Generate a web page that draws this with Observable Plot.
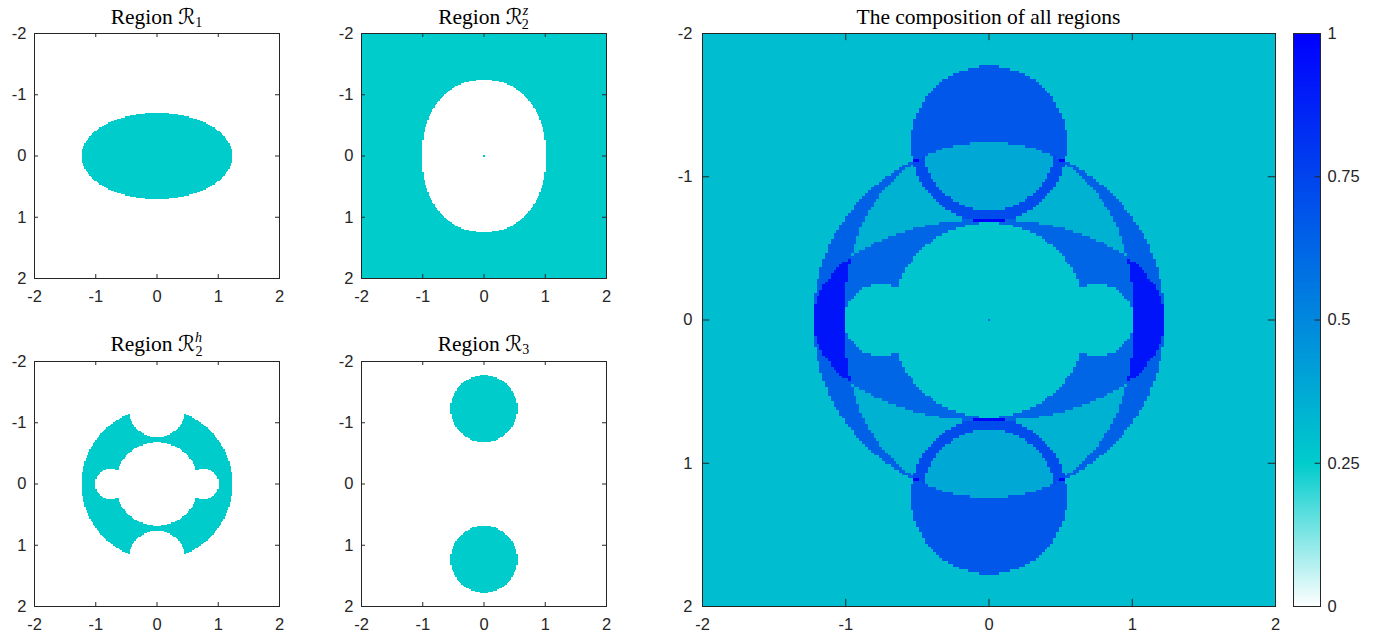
<!DOCTYPE html>
<html>
<head>
<meta charset="utf-8">
<script src="https://cdn.jsdelivr.net/npm/d3@7"></script>
<script src="https://cdn.jsdelivr.net/npm/@observablehq/plot@0.6"></script>
<style>
  html, body { margin: 0; padding: 0; background: #ffffff; }
  #root { position: relative; width: 1374px; height: 635px; overflow: hidden; background: #ffffff; }
  .panel { position: absolute; }
  #titles { position: absolute; left: 0; top: 0; pointer-events: none; }
  .ttl { font-family: "Liberation Serif", "Times New Roman", serif; font-size: 21.5px; fill: #000000; white-space: pre; }
  .cal { font-family: "DejaVu Serif", "DejaVu Sans", serif; font-style: italic; }
  .scr { font-size: 14px; }
  .it { font-style: italic; }
</style>
</head>
<body>
<div id="root"></div>
<script>
// ---------------- data ----------------
const axisTicks = [-2, -1, 0, 1, 2];
const colorbarTicks = [0, 0.25, 0.5, 0.75, 1];
const colorDomain = [0, 0.25, 1];
const colorRange = ["#ffffff", "#00cccc", "#0000ff"];

// region geometry (data units)
const r1Ellipse = [1.23, 0.705];                 // semi-axes x, y
const r2zOval = [1.01, 1.24, 2.2];               // semi-axes x, y, exponent (hole of R2z)
const r2hOuter = [1.23];                         // outer radius
const r2hInner = [0.68];                         // inner radius
const r2hBumps = [[-0.76, 0, 0.25], [0.76, 0, 0.25]];   // cx, cy, r
const r2hCuts = [[0, -1.23, 0.465], [0, 1.23, 0.465]];  // cx, cy, r
const r3Discs = [[0, -1.23, 0.545], [0, 1.23, 0.545]];  // cx, cy, r

const regionNames = ["R1", "R2z", "R2h", "R3"];
const regionWeights = [0.28, 0.30, 0.345, 0.38]; // contribution to the composition
const panelLevel = [0.25];

const titleWord = ["Region", "Region", "Region", "Region"];
const titleLetter = ["ℛ", "ℛ", "ℛ", "ℛ"];
const titleSub = ["1", "2", "2", "3"];
const titleSup = ["", "z", "h", ""];
const compositeTitle = "The composition of all regions";

// ---------------- region indicators ----------------
const inDisc = (x, y, [cx, cy, r]) => (x - cx) ** 2 + (y - cy) ** 2 <= r * r;
const inR1 = (x, y) => (x / r1Ellipse[0]) ** 2 + (y / r1Ellipse[1]) ** 2 <= 1;
const inR2z = (x, y) =>
  Math.abs(x / r2zOval[0]) ** r2zOval[2] + Math.abs(y / r2zOval[1]) ** r2zOval[2] > 1 ||
  (Math.abs(x) < 1e-3 && Math.abs(y) < 1e-3);
const inR2h = (x, y) => {
  const d2 = x * x + y * y;
  if (d2 > r2hOuter[0] ** 2 || d2 < r2hInner[0] ** 2) return false;
  if (r2hBumps.some(c => inDisc(x, y, c))) return false;
  if (r2hCuts.some(c => inDisc(x, y, c))) return false;
  return true;
};
const inR3 = (x, y) => r3Discs.some(c => inDisc(x, y, c));
const indicators = [inR1, inR2z, inR2h, inR3];
const composite = (x, y) =>
  indicators.reduce((s, f, i) => s + (f(x, y) ? regionWeights[i] : 0), 0);

// ---------------- plotting ----------------
const colorScale = {type: "linear", domain: colorDomain, range: colorRange, interpolate: "rgb", clamp: true};
const baseStyle = {
  background: "none",
  fontFamily: "'Liberation Sans', Arial, Helvetica, sans-serif",
  fontSize: "16.5px",
  color: "#262626",
  overflow: "visible"
};
const AX = "#262626";

function mapPlot(size, mLeft, fill, tickLen, yPad) {
  const mTop = 6, mRight = 6, mBottom = 34;
  return Plot.plot({
    width: mLeft + size + mRight,
    height: mTop + size + mBottom,
    marginLeft: mLeft, marginRight: mRight, marginTop: mTop, marginBottom: mBottom,
    x: {domain: [-2, 2]},
    y: {domain: [-2, 2], reverse: true},
    color: colorScale,
    style: baseStyle,
    marks: [
      Plot.raster({x1: -2, x2: 2, y1: -2, y2: 2, width: 201, height: 201, fill, imageRendering: "pixelated"}),
      Plot.frame({stroke: AX, strokeWidth: 1}),
      Plot.ruleX(axisTicks, {x: d => d, y1: -2, y2: -2 + tickLen, stroke: AX}),
      Plot.ruleX(axisTicks, {x: d => d, y1: 2, y2: 2 - tickLen, stroke: AX}),
      Plot.ruleY(axisTicks, {y: d => d, x1: -2, x2: -2 + tickLen, stroke: AX}),
      Plot.ruleY(axisTicks, {y: d => d, x1: 2, x2: 2 - tickLen, stroke: AX}),
      Plot.axisX({ticks: axisTicks, anchor: "bottom", tickSize: 0, tickPadding: 12, tickFormat: d => String(d), label: null}),
      Plot.axisY({ticks: axisTicks, anchor: "left", tickSize: 0, tickPadding: yPad, tickFormat: d => String(d), label: null})
    ]
  });
}

function colorbarPlot() {
  const w = 27, h = 573, mTop = 6, mBottom = 34, mLeft = 2, mRight = 50;
  return Plot.plot({
    width: mLeft + w + mRight,
    height: mTop + h + mBottom,
    marginLeft: mLeft, marginRight: mRight, marginTop: mTop, marginBottom: mBottom,
    x: {domain: [0, 1]},
    y: {domain: [0, 1]},
    color: colorScale,
    style: baseStyle,
    marks: [
      Plot.raster({x1: 0, x2: 1, y1: 0, y2: 1, width: 1, height: 400, fill: (x, y) => y, imageRendering: "auto"}),
      Plot.frame({stroke: AX, strokeWidth: 1}),
      Plot.ruleY(colorbarTicks, {y: d => d, x1: 1, x2: 0.8, stroke: AX}),
      Plot.axisY({ticks: colorbarTicks, anchor: "right", tickSize: 0, tickPadding: 7, tickFormat: d => String(d), label: null}),
      Plot.axisX({ticks: [], label: null})
    ]
  });
}

const root = document.getElementById("root");
function place(node, left, top) {
  const div = document.createElement("div");
  div.className = "panel";
  div.style.left = left + "px";
  div.style.top = top + "px";
  div.appendChild(node);
  root.appendChild(div);
}

// small panels: frames at (34,33), (361,33), (34,361), (361,361), size 245
const smallPos = [[34, 33], [361, 33], [34, 361], [361, 361]];
indicators.forEach((f, i) => {
  const p = mapPlot(245, 34, (x, y) => (f(x, y) ? panelLevel[0] : 0), 0.065, 8);
  place(p, smallPos[i][0] - 34, smallPos[i][1] - 6);
});

// composite: frame at (702,33), size 573
place(mapPlot(573, 50, composite, 0.05, 10), 702 - 50, 33 - 6);

// colorbar: frame at (1293,33), 27 x 573
place(colorbarPlot(), 1293 - 2, 33 - 6);

// ---------------- titles ----------------
const NS = "http://www.w3.org/2000/svg";
const tsvg = document.createElementNS(NS, "svg");
tsvg.setAttribute("id", "titles");
tsvg.setAttribute("width", 1374);
tsvg.setAttribute("height", 635);
root.appendChild(tsvg);

function tspan(parent, text, attrs = {}) {
  const t = document.createElementNS(NS, "tspan");
  for (const k in attrs) t.setAttribute(k, attrs[k]);
  t.textContent = text;
  parent.appendChild(t);
  return t;
}
function textEl(cx, y) {
  const t = document.createElementNS(NS, "text");
  t.setAttribute("x", cx);
  t.setAttribute("y", y);
  t.setAttribute("text-anchor", "middle");
  t.setAttribute("class", "ttl");
  tsvg.appendChild(t);
  return t;
}
const titleCenters = [[156.5, 24], [483.5, 24], [156.5, 351], [483.5, 351]];
titleWord.forEach((w, i) => {
  const t = textEl(titleCenters[i][0], titleCenters[i][1]);
  tspan(t, w + " ");
  tspan(t, titleLetter[i], {class: "cal"});
  if (titleSup[i]) {
    tspan(t, titleSup[i], {class: "scr it", dy: -9});
    tspan(t, titleSub[i], {class: "scr", dx: -6.5, dy: 13.5});
  } else {
    tspan(t, titleSub[i], {class: "scr", dy: 3});
  }
});
const ct = textEl(988.5, 24);
tspan(ct, compositeTitle);
</script>
</body>
</html>
